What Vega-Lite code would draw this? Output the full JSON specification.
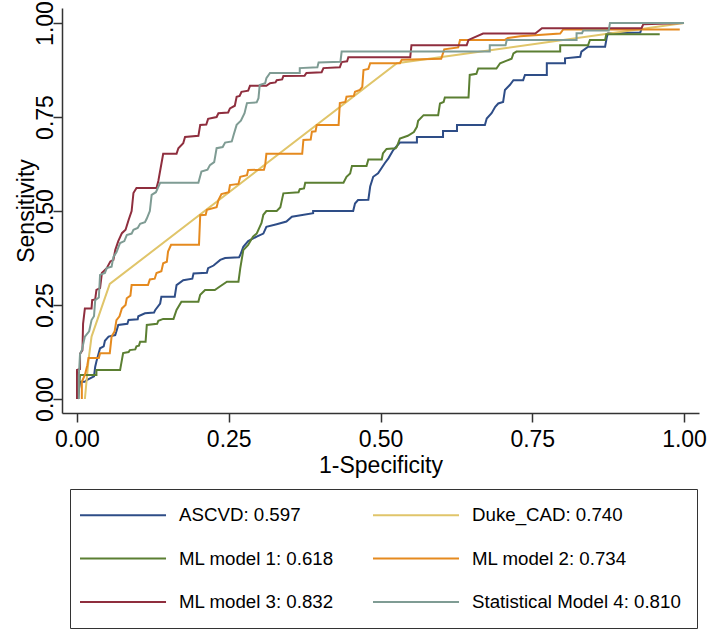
{
  "$schema": "https://vega.github.io/schema/vega-lite/v6.json",
  "width": 637,
  "height": 405,
  "autosize": {"type": "none"},
  "padding": {"left": 62, "top": 8, "right": 10, "bottom": 224},
  "background": "white",
  "config": {"view": {"stroke": null}, "font": "Liberation Sans"},
  "datasets": {
    "roc": [
      {"m":"ASCVD: 0.597","x":0.001,"y":0},{"m":"ASCVD: 0.597","x":0.005,"y":0.046},{"m":"ASCVD: 0.597","x":0.013,"y":0.046},{"m":"ASCVD: 0.597","x":0.016,"y":0.05},{"m":"ASCVD: 0.597","x":0.028,"y":0.06},{"m":"ASCVD: 0.597","x":0.03,"y":0.086},{"m":"ASCVD: 0.597","x":0.032,"y":0.1},{"m":"ASCVD: 0.597","x":0.038,"y":0.135},{"m":"ASCVD: 0.597","x":0.044,"y":0.14},{"m":"ASCVD: 0.597","x":0.046,"y":0.155},{"m":"ASCVD: 0.597","x":0.052,"y":0.166},{"m":"ASCVD: 0.597","x":0.063,"y":0.17},{"m":"ASCVD: 0.597","x":0.065,"y":0.18},{"m":"ASCVD: 0.597","x":0.068,"y":0.197},{"m":"ASCVD: 0.597","x":0.083,"y":0.2},{"m":"ASCVD: 0.597","x":0.085,"y":0.21},{"m":"ASCVD: 0.597","x":0.1,"y":0.212},{"m":"ASCVD: 0.597","x":0.101,"y":0.22},{"m":"ASCVD: 0.597","x":0.112,"y":0.228},{"m":"ASCVD: 0.597","x":0.127,"y":0.23},{"m":"ASCVD: 0.597","x":0.129,"y":0.237},{"m":"ASCVD: 0.597","x":0.137,"y":0.254},{"m":"ASCVD: 0.597","x":0.139,"y":0.272},{"m":"ASCVD: 0.597","x":0.161,"y":0.272},{"m":"ASCVD: 0.597","x":0.164,"y":0.303},{"m":"ASCVD: 0.597","x":0.175,"y":0.316},{"m":"ASCVD: 0.597","x":0.19,"y":0.32},{"m":"ASCVD: 0.597","x":0.192,"y":0.334},{"m":"ASCVD: 0.597","x":0.214,"y":0.336},{"m":"ASCVD: 0.597","x":0.216,"y":0.348},{"m":"ASCVD: 0.597","x":0.225,"y":0.355},{"m":"ASCVD: 0.597","x":0.236,"y":0.37},{"m":"ASCVD: 0.597","x":0.244,"y":0.375},{"m":"ASCVD: 0.597","x":0.267,"y":0.377},{"m":"ASCVD: 0.597","x":0.269,"y":0.383},{"m":"ASCVD: 0.597","x":0.274,"y":0.405},{"m":"ASCVD: 0.597","x":0.282,"y":0.42},{"m":"ASCVD: 0.597","x":0.296,"y":0.432},{"m":"ASCVD: 0.597","x":0.307,"y":0.44},{"m":"ASCVD: 0.597","x":0.312,"y":0.458},{"m":"ASCVD: 0.597","x":0.329,"y":0.465},{"m":"ASCVD: 0.597","x":0.345,"y":0.472},{"m":"ASCVD: 0.597","x":0.354,"y":0.485},{"m":"ASCVD: 0.597","x":0.389,"y":0.494},{"m":"ASCVD: 0.597","x":0.389,"y":0.5},{"m":"ASCVD: 0.597","x":0.455,"y":0.5},{"m":"ASCVD: 0.597","x":0.458,"y":0.52},{"m":"ASCVD: 0.597","x":0.463,"y":0.529},{"m":"ASCVD: 0.597","x":0.48,"y":0.53},{"m":"ASCVD: 0.597","x":0.483,"y":0.565},{"m":"ASCVD: 0.597","x":0.488,"y":0.591},{"m":"ASCVD: 0.597","x":0.496,"y":0.6},{"m":"ASCVD: 0.597","x":0.507,"y":0.627},{"m":"ASCVD: 0.597","x":0.513,"y":0.64},{"m":"ASCVD: 0.597","x":0.521,"y":0.662},{"m":"ASCVD: 0.597","x":0.532,"y":0.682},{"m":"ASCVD: 0.597","x":0.56,"y":0.682},{"m":"ASCVD: 0.597","x":0.56,"y":0.697},{"m":"ASCVD: 0.597","x":0.603,"y":0.697},{"m":"ASCVD: 0.597","x":0.603,"y":0.713},{"m":"ASCVD: 0.597","x":0.626,"y":0.713},{"m":"ASCVD: 0.597","x":0.626,"y":0.729},{"m":"ASCVD: 0.597","x":0.672,"y":0.729},{"m":"ASCVD: 0.597","x":0.675,"y":0.746},{"m":"ASCVD: 0.597","x":0.683,"y":0.76},{"m":"ASCVD: 0.597","x":0.689,"y":0.777},{"m":"ASCVD: 0.597","x":0.694,"y":0.786},{"m":"ASCVD: 0.597","x":0.702,"y":0.79},{"m":"ASCVD: 0.597","x":0.705,"y":0.822},{"m":"ASCVD: 0.597","x":0.713,"y":0.835},{"m":"ASCVD: 0.597","x":0.719,"y":0.848},{"m":"ASCVD: 0.597","x":0.735,"y":0.848},{"m":"ASCVD: 0.597","x":0.738,"y":0.862},{"m":"ASCVD: 0.597","x":0.774,"y":0.862},{"m":"ASCVD: 0.597","x":0.774,"y":0.893},{"m":"ASCVD: 0.597","x":0.804,"y":0.893},{"m":"ASCVD: 0.597","x":0.804,"y":0.906},{"m":"ASCVD: 0.597","x":0.829,"y":0.91},{"m":"ASCVD: 0.597","x":0.831,"y":0.924},{"m":"ASCVD: 0.597","x":0.842,"y":0.937},{"m":"ASCVD: 0.597","x":0.87,"y":0.937},{"m":"ASCVD: 0.597","x":0.873,"y":0.964},{"m":"ASCVD: 0.597","x":0.875,"y":0.973},{"m":"ASCVD: 0.597","x":0.928,"y":0.975},{"m":"ASCVD: 0.597","x":0.93,"y":0.985},

      {"m":"Duke_CAD: 0.740","x":0.013,"y":0},{"m":"Duke_CAD: 0.740","x":0.019,"y":0.104},{"m":"Duke_CAD: 0.740","x":0.024,"y":0.166},{"m":"Duke_CAD: 0.740","x":0.054,"y":0.306},{"m":"Duke_CAD: 0.740","x":0.527,"y":0.893},{"m":"Duke_CAD: 0.740","x":1,"y":1},

      {"m":"ML model 1: 0.618","x":0.002,"y":0},{"m":"ML model 1: 0.618","x":0.005,"y":0.064},{"m":"ML model 1: 0.618","x":0.032,"y":0.064},{"m":"ML model 1: 0.618","x":0.032,"y":0.077},{"m":"ML model 1: 0.618","x":0.071,"y":0.077},{"m":"ML model 1: 0.618","x":0.076,"y":0.122},{"m":"ML model 1: 0.618","x":0.085,"y":0.125},{"m":"ML model 1: 0.618","x":0.087,"y":0.13},{"m":"ML model 1: 0.618","x":0.096,"y":0.132},{"m":"ML model 1: 0.618","x":0.098,"y":0.14},{"m":"ML model 1: 0.618","x":0.102,"y":0.142},{"m":"ML model 1: 0.618","x":0.104,"y":0.152},{"m":"ML model 1: 0.618","x":0.113,"y":0.152},{"m":"ML model 1: 0.618","x":0.115,"y":0.197},{"m":"ML model 1: 0.618","x":0.132,"y":0.2},{"m":"ML model 1: 0.618","x":0.134,"y":0.208},{"m":"ML model 1: 0.618","x":0.142,"y":0.213},{"m":"ML model 1: 0.618","x":0.159,"y":0.213},{"m":"ML model 1: 0.618","x":0.164,"y":0.237},{"m":"ML model 1: 0.618","x":0.172,"y":0.259},{"m":"ML model 1: 0.618","x":0.2,"y":0.259},{"m":"ML model 1: 0.618","x":0.203,"y":0.277},{"m":"ML model 1: 0.618","x":0.211,"y":0.29},{"m":"ML model 1: 0.618","x":0.227,"y":0.29},{"m":"ML model 1: 0.618","x":0.236,"y":0.3},{"m":"ML model 1: 0.618","x":0.247,"y":0.312},{"m":"ML model 1: 0.618","x":0.266,"y":0.312},{"m":"ML model 1: 0.618","x":0.269,"y":0.348},{"m":"ML model 1: 0.618","x":0.274,"y":0.396},{"m":"ML model 1: 0.618","x":0.282,"y":0.41},{"m":"ML model 1: 0.618","x":0.29,"y":0.432},{"m":"ML model 1: 0.618","x":0.296,"y":0.44},{"m":"ML model 1: 0.618","x":0.304,"y":0.468},{"m":"ML model 1: 0.618","x":0.307,"y":0.49},{"m":"ML model 1: 0.618","x":0.312,"y":0.5},{"m":"ML model 1: 0.618","x":0.329,"y":0.5},{"m":"ML model 1: 0.618","x":0.335,"y":0.51},{"m":"ML model 1: 0.618","x":0.337,"y":0.525},{"m":"ML model 1: 0.618","x":0.34,"y":0.547},{"m":"ML model 1: 0.618","x":0.365,"y":0.55},{"m":"ML model 1: 0.618","x":0.367,"y":0.558},{"m":"ML model 1: 0.618","x":0.374,"y":0.56},{"m":"ML model 1: 0.618","x":0.376,"y":0.575},{"m":"ML model 1: 0.618","x":0.439,"y":0.575},{"m":"ML model 1: 0.618","x":0.444,"y":0.591},{"m":"ML model 1: 0.618","x":0.45,"y":0.6},{"m":"ML model 1: 0.618","x":0.453,"y":0.62},{"m":"ML model 1: 0.618","x":0.477,"y":0.62},{"m":"ML model 1: 0.618","x":0.48,"y":0.637},{"m":"ML model 1: 0.618","x":0.502,"y":0.637},{"m":"ML model 1: 0.618","x":0.504,"y":0.653},{"m":"ML model 1: 0.618","x":0.51,"y":0.665},{"m":"ML model 1: 0.618","x":0.525,"y":0.667},{"m":"ML model 1: 0.618","x":0.527,"y":0.671},{"m":"ML model 1: 0.618","x":0.532,"y":0.693},{"m":"ML model 1: 0.618","x":0.545,"y":0.7},{"m":"ML model 1: 0.618","x":0.555,"y":0.71},{"m":"ML model 1: 0.618","x":0.56,"y":0.724},{"m":"ML model 1: 0.618","x":0.562,"y":0.74},{"m":"ML model 1: 0.618","x":0.571,"y":0.755},{"m":"ML model 1: 0.618","x":0.595,"y":0.755},{"m":"ML model 1: 0.618","x":0.598,"y":0.786},{"m":"ML model 1: 0.618","x":0.604,"y":0.79},{"m":"ML model 1: 0.618","x":0.606,"y":0.802},{"m":"ML model 1: 0.618","x":0.645,"y":0.802},{"m":"ML model 1: 0.618","x":0.647,"y":0.862},{"m":"ML model 1: 0.618","x":0.658,"y":0.865},{"m":"ML model 1: 0.618","x":0.661,"y":0.879},{"m":"ML model 1: 0.618","x":0.691,"y":0.879},{"m":"ML model 1: 0.618","x":0.697,"y":0.893},{"m":"ML model 1: 0.618","x":0.708,"y":0.9},{"m":"ML model 1: 0.618","x":0.716,"y":0.905},{"m":"ML model 1: 0.618","x":0.719,"y":0.919},{"m":"ML model 1: 0.618","x":0.724,"y":0.924},{"m":"ML model 1: 0.618","x":0.796,"y":0.924},{"m":"ML model 1: 0.618","x":0.796,"y":0.941},{"m":"ML model 1: 0.618","x":0.842,"y":0.941},{"m":"ML model 1: 0.618","x":0.845,"y":0.955},{"m":"ML model 1: 0.618","x":0.87,"y":0.955},{"m":"ML model 1: 0.618","x":0.872,"y":0.97},{"m":"ML model 1: 0.618","x":0.96,"y":0.97},

      {"m":"ML model 2: 0.734","x":0.008,"y":0},{"m":"ML model 2: 0.734","x":0.008,"y":0.046},{"m":"ML model 2: 0.734","x":0.013,"y":0.064},{"m":"ML model 2: 0.734","x":0.017,"y":0.09},{"m":"ML model 2: 0.734","x":0.019,"y":0.109},{"m":"ML model 2: 0.734","x":0.036,"y":0.109},{"m":"ML model 2: 0.734","x":0.038,"y":0.122},{"m":"ML model 2: 0.734","x":0.054,"y":0.122},{"m":"ML model 2: 0.734","x":0.057,"y":0.166},{"m":"ML model 2: 0.734","x":0.062,"y":0.18},{"m":"ML model 2: 0.734","x":0.065,"y":0.21},{"m":"ML model 2: 0.734","x":0.07,"y":0.22},{"m":"ML model 2: 0.734","x":0.074,"y":0.241},{"m":"ML model 2: 0.734","x":0.08,"y":0.25},{"m":"ML model 2: 0.734","x":0.082,"y":0.268},{"m":"ML model 2: 0.734","x":0.088,"y":0.275},{"m":"ML model 2: 0.734","x":0.09,"y":0.303},{"m":"ML model 2: 0.734","x":0.117,"y":0.303},{"m":"ML model 2: 0.734","x":0.12,"y":0.318},{"m":"ML model 2: 0.734","x":0.128,"y":0.32},{"m":"ML model 2: 0.734","x":0.131,"y":0.335},{"m":"ML model 2: 0.734","x":0.139,"y":0.34},{"m":"ML model 2: 0.734","x":0.142,"y":0.361},{"m":"ML model 2: 0.734","x":0.148,"y":0.365},{"m":"ML model 2: 0.734","x":0.15,"y":0.392},{"m":"ML model 2: 0.734","x":0.155,"y":0.41},{"m":"ML model 2: 0.734","x":0.201,"y":0.41},{"m":"ML model 2: 0.734","x":0.203,"y":0.489},{"m":"ML model 2: 0.734","x":0.212,"y":0.49},{"m":"ML model 2: 0.734","x":0.214,"y":0.503},{"m":"ML model 2: 0.734","x":0.23,"y":0.51},{"m":"ML model 2: 0.734","x":0.233,"y":0.529},{"m":"ML model 2: 0.734","x":0.238,"y":0.545},{"m":"ML model 2: 0.734","x":0.25,"y":0.55},{"m":"ML model 2: 0.734","x":0.252,"y":0.569},{"m":"ML model 2: 0.734","x":0.266,"y":0.572},{"m":"ML model 2: 0.734","x":0.269,"y":0.591},{"m":"ML model 2: 0.734","x":0.28,"y":0.595},{"m":"ML model 2: 0.734","x":0.282,"y":0.609},{"m":"ML model 2: 0.734","x":0.308,"y":0.61},{"m":"ML model 2: 0.734","x":0.31,"y":0.622},{"m":"ML model 2: 0.734","x":0.312,"y":0.652},{"m":"ML model 2: 0.734","x":0.371,"y":0.652},{"m":"ML model 2: 0.734","x":0.373,"y":0.689},{"m":"ML model 2: 0.734","x":0.385,"y":0.69},{"m":"ML model 2: 0.734","x":0.387,"y":0.711},{"m":"ML model 2: 0.734","x":0.393,"y":0.712},{"m":"ML model 2: 0.734","x":0.395,"y":0.729},{"m":"ML model 2: 0.734","x":0.431,"y":0.729},{"m":"ML model 2: 0.734","x":0.433,"y":0.787},{"m":"ML model 2: 0.734","x":0.442,"y":0.79},{"m":"ML model 2: 0.734","x":0.444,"y":0.804},{"m":"ML model 2: 0.734","x":0.456,"y":0.806},{"m":"ML model 2: 0.734","x":0.458,"y":0.817},{"m":"ML model 2: 0.734","x":0.466,"y":0.822},{"m":"ML model 2: 0.734","x":0.47,"y":0.83},{"m":"ML model 2: 0.734","x":0.472,"y":0.875},{"m":"ML model 2: 0.734","x":0.48,"y":0.878},{"m":"ML model 2: 0.734","x":0.483,"y":0.893},{"m":"ML model 2: 0.734","x":0.532,"y":0.893},{"m":"ML model 2: 0.734","x":0.535,"y":0.902},{"m":"ML model 2: 0.734","x":0.6,"y":0.905},{"m":"ML model 2: 0.734","x":0.605,"y":0.93},{"m":"ML model 2: 0.734","x":0.628,"y":0.935},{"m":"ML model 2: 0.734","x":0.631,"y":0.955},{"m":"ML model 2: 0.734","x":0.705,"y":0.955},{"m":"ML model 2: 0.734","x":0.71,"y":0.96},{"m":"ML model 2: 0.734","x":0.73,"y":0.965},{"m":"ML model 2: 0.734","x":0.796,"y":0.972},{"m":"ML model 2: 0.734","x":0.801,"y":0.983},{"m":"ML model 2: 0.734","x":0.993,"y":0.983},

      {"m":"ML model 3: 0.832","x":0,"y":0},{"m":"ML model 3: 0.832","x":0,"y":0.077},{"m":"ML model 3: 0.832","x":0.005,"y":0.08},{"m":"ML model 3: 0.832","x":0.005,"y":0.12},{"m":"ML model 3: 0.832","x":0.009,"y":0.13},{"m":"ML model 3: 0.832","x":0.01,"y":0.2},{"m":"ML model 3: 0.832","x":0.013,"y":0.241},{"m":"ML model 3: 0.832","x":0.024,"y":0.241},{"m":"ML model 3: 0.832","x":0.025,"y":0.263},{"m":"ML model 3: 0.832","x":0.03,"y":0.265},{"m":"ML model 3: 0.832","x":0.032,"y":0.29},{"m":"ML model 3: 0.832","x":0.038,"y":0.295},{"m":"ML model 3: 0.832","x":0.041,"y":0.335},{"m":"ML model 3: 0.832","x":0.049,"y":0.348},{"m":"ML model 3: 0.832","x":0.055,"y":0.366},{"m":"ML model 3: 0.832","x":0.06,"y":0.37},{"m":"ML model 3: 0.832","x":0.063,"y":0.396},{"m":"ML model 3: 0.832","x":0.068,"y":0.42},{"m":"ML model 3: 0.832","x":0.074,"y":0.441},{"m":"ML model 3: 0.832","x":0.08,"y":0.45},{"m":"ML model 3: 0.832","x":0.085,"y":0.476},{"m":"ML model 3: 0.832","x":0.09,"y":0.5},{"m":"ML model 3: 0.832","x":0.093,"y":0.548},{"m":"ML model 3: 0.832","x":0.098,"y":0.561},{"m":"ML model 3: 0.832","x":0.131,"y":0.561},{"m":"ML model 3: 0.832","x":0.134,"y":0.58},{"m":"ML model 3: 0.832","x":0.142,"y":0.652},{"m":"ML model 3: 0.832","x":0.164,"y":0.652},{"m":"ML model 3: 0.832","x":0.167,"y":0.667},{"m":"ML model 3: 0.832","x":0.175,"y":0.68},{"m":"ML model 3: 0.832","x":0.178,"y":0.697},{"m":"ML model 3: 0.832","x":0.2,"y":0.7},{"m":"ML model 3: 0.832","x":0.203,"y":0.729},{"m":"ML model 3: 0.832","x":0.213,"y":0.73},{"m":"ML model 3: 0.832","x":0.216,"y":0.745},{"m":"ML model 3: 0.832","x":0.23,"y":0.75},{"m":"ML model 3: 0.832","x":0.233,"y":0.76},{"m":"ML model 3: 0.832","x":0.249,"y":0.762},{"m":"ML model 3: 0.832","x":0.252,"y":0.773},{"m":"ML model 3: 0.832","x":0.26,"y":0.78},{"m":"ML model 3: 0.832","x":0.263,"y":0.804},{"m":"ML model 3: 0.832","x":0.268,"y":0.806},{"m":"ML model 3: 0.832","x":0.271,"y":0.817},{"m":"ML model 3: 0.832","x":0.282,"y":0.82},{"m":"ML model 3: 0.832","x":0.285,"y":0.833},{"m":"ML model 3: 0.832","x":0.312,"y":0.833},{"m":"ML model 3: 0.832","x":0.318,"y":0.84},{"m":"ML model 3: 0.832","x":0.327,"y":0.842},{"m":"ML model 3: 0.832","x":0.329,"y":0.848},{"m":"ML model 3: 0.832","x":0.338,"y":0.85},{"m":"ML model 3: 0.832","x":0.34,"y":0.859},{"m":"ML model 3: 0.832","x":0.375,"y":0.86},{"m":"ML model 3: 0.832","x":0.378,"y":0.867},{"m":"ML model 3: 0.832","x":0.403,"y":0.869},{"m":"ML model 3: 0.832","x":0.406,"y":0.88},{"m":"ML model 3: 0.832","x":0.433,"y":0.882},{"m":"ML model 3: 0.832","x":0.436,"y":0.896},{"m":"ML model 3: 0.832","x":0.445,"y":0.898},{"m":"ML model 3: 0.832","x":0.447,"y":0.909},{"m":"ML model 3: 0.832","x":0.549,"y":0.909},{"m":"ML model 3: 0.832","x":0.551,"y":0.941},{"m":"ML model 3: 0.832","x":0.642,"y":0.941},{"m":"ML model 3: 0.832","x":0.645,"y":0.955},{"m":"ML model 3: 0.832","x":0.669,"y":0.972},{"m":"ML model 3: 0.832","x":0.755,"y":0.972},{"m":"ML model 3: 0.832","x":0.766,"y":0.986},{"m":"ML model 3: 0.832","x":0.93,"y":0.986},{"m":"ML model 3: 0.832","x":0.933,"y":0.997},{"m":"ML model 3: 0.832","x":1,"y":1},

      {"m":"Statistical Model 4: 0.810","x":0.003,"y":0},{"m":"Statistical Model 4: 0.810","x":0.003,"y":0.06},{"m":"Statistical Model 4: 0.810","x":0.005,"y":0.12},{"m":"Statistical Model 4: 0.810","x":0.008,"y":0.13},{"m":"Statistical Model 4: 0.810","x":0.013,"y":0.166},{"m":"Statistical Model 4: 0.810","x":0.02,"y":0.18},{"m":"Statistical Model 4: 0.810","x":0.024,"y":0.21},{"m":"Statistical Model 4: 0.810","x":0.028,"y":0.22},{"m":"Statistical Model 4: 0.810","x":0.03,"y":0.263},{"m":"Statistical Model 4: 0.810","x":0.036,"y":0.27},{"m":"Statistical Model 4: 0.810","x":0.038,"y":0.33},{"m":"Statistical Model 4: 0.810","x":0.046,"y":0.335},{"m":"Statistical Model 4: 0.810","x":0.049,"y":0.348},{"m":"Statistical Model 4: 0.810","x":0.057,"y":0.352},{"m":"Statistical Model 4: 0.810","x":0.06,"y":0.378},{"m":"Statistical Model 4: 0.810","x":0.065,"y":0.39},{"m":"Statistical Model 4: 0.810","x":0.071,"y":0.415},{"m":"Statistical Model 4: 0.810","x":0.078,"y":0.42},{"m":"Statistical Model 4: 0.810","x":0.082,"y":0.436},{"m":"Statistical Model 4: 0.810","x":0.09,"y":0.44},{"m":"Statistical Model 4: 0.810","x":0.093,"y":0.45},{"m":"Statistical Model 4: 0.810","x":0.1,"y":0.455},{"m":"Statistical Model 4: 0.810","x":0.104,"y":0.466},{"m":"Statistical Model 4: 0.810","x":0.112,"y":0.47},{"m":"Statistical Model 4: 0.810","x":0.115,"y":0.48},{"m":"Statistical Model 4: 0.810","x":0.12,"y":0.5},{"m":"Statistical Model 4: 0.810","x":0.123,"y":0.543},{"m":"Statistical Model 4: 0.810","x":0.13,"y":0.55},{"m":"Statistical Model 4: 0.810","x":0.137,"y":0.575},{"m":"Statistical Model 4: 0.810","x":0.2,"y":0.575},{"m":"Statistical Model 4: 0.810","x":0.205,"y":0.605},{"m":"Statistical Model 4: 0.810","x":0.215,"y":0.61},{"m":"Statistical Model 4: 0.810","x":0.219,"y":0.622},{"m":"Statistical Model 4: 0.810","x":0.226,"y":0.63},{"m":"Statistical Model 4: 0.810","x":0.23,"y":0.667},{"m":"Statistical Model 4: 0.810","x":0.24,"y":0.67},{"m":"Statistical Model 4: 0.810","x":0.244,"y":0.682},{"m":"Statistical Model 4: 0.810","x":0.255,"y":0.685},{"m":"Statistical Model 4: 0.810","x":0.258,"y":0.702},{"m":"Statistical Model 4: 0.810","x":0.263,"y":0.729},{"m":"Statistical Model 4: 0.810","x":0.27,"y":0.74},{"m":"Statistical Model 4: 0.810","x":0.276,"y":0.76},{"m":"Statistical Model 4: 0.810","x":0.28,"y":0.787},{"m":"Statistical Model 4: 0.810","x":0.296,"y":0.789},{"m":"Statistical Model 4: 0.810","x":0.299,"y":0.8},{"m":"Statistical Model 4: 0.810","x":0.301,"y":0.835},{"m":"Statistical Model 4: 0.810","x":0.31,"y":0.84},{"m":"Statistical Model 4: 0.810","x":0.312,"y":0.853},{"m":"Statistical Model 4: 0.810","x":0.318,"y":0.867},{"m":"Statistical Model 4: 0.810","x":0.367,"y":0.867},{"m":"Statistical Model 4: 0.810","x":0.367,"y":0.88},{"m":"Statistical Model 4: 0.810","x":0.396,"y":0.882},{"m":"Statistical Model 4: 0.810","x":0.398,"y":0.895},{"m":"Statistical Model 4: 0.810","x":0.434,"y":0.897},{"m":"Statistical Model 4: 0.810","x":0.436,"y":0.924},{"m":"Statistical Model 4: 0.810","x":0.68,"y":0.924},{"m":"Statistical Model 4: 0.810","x":0.68,"y":0.941},{"m":"Statistical Model 4: 0.810","x":0.706,"y":0.941},{"m":"Statistical Model 4: 0.810","x":0.708,"y":0.955},{"m":"Statistical Model 4: 0.810","x":0.823,"y":0.955},{"m":"Statistical Model 4: 0.810","x":0.823,"y":0.973},{"m":"Statistical Model 4: 0.810","x":0.832,"y":0.973},{"m":"Statistical Model 4: 0.810","x":0.834,"y":0.98},{"m":"Statistical Model 4: 0.810","x":0.876,"y":0.98},{"m":"Statistical Model 4: 0.810","x":0.878,"y":1},{"m":"Statistical Model 4: 0.810","x":1,"y":1}
    ]
  },
  "data": {"name": "roc"},
  "mark": {"type": "line", "strokeWidth": 2, "clip": false, "strokeJoin": "miter"},
  "encoding": {
    "x": {
      "field": "x", "type": "quantitative",
      "scale": {"domain": [-0.0247, 1.0247], "nice": false, "zero": false},
      "axis": {
        "values": [0, 0.25, 0.5, 0.75, 1], "format": ".2f", "title": "1-Specificity",
        "grid": false, "domainColor": "#333333", "domainWidth": 1.5,
        "tickColor": "#333333", "tickWidth": 1.5, "tickSize": 9,
        "labelFontSize": 23, "labelColor": "#000000", "labelPadding": 6,
        "titleFontSize": 23, "titleFontWeight": "normal", "titleColor": "#000000", "titlePadding": 3
      }
    },
    "y": {
      "field": "y", "type": "quantitative",
      "scale": {"domain": [-0.0372, 1.0399], "nice": false, "zero": false},
      "axis": {
        "values": [0, 0.25, 0.5, 0.75, 1], "format": ".2f", "title": "Sensitivity",
        "grid": false, "domainColor": "#333333", "domainWidth": 1.5,
        "tickColor": "#333333", "tickWidth": 1.5, "tickSize": 9,
        "labelAngle": -90, "labelFontSize": 23, "labelColor": "#000000", "labelPadding": -4,
        "titleFontSize": 23, "titleFontWeight": "normal", "titleColor": "#000000", "titlePadding": -4
      }
    },
    "color": {
      "field": "m", "type": "nominal",
      "scale": {
        "domain": ["ASCVD: 0.597", "Duke_CAD: 0.740", "ML model 1: 0.618", "ML model 2: 0.734", "ML model 3: 0.832", "Statistical Model 4: 0.810"],
        "range": ["#2e4d87", "#e0c56a", "#5b7f32", "#e58a1f", "#8f2e3e", "#7f9c94"]
      },
      "legend": {
        "orient": "none", "legendX": 8, "legendY": 481, "columns": 2, "direction": "horizontal",
        "title": null, "symbolType": "M-1.86,0H8.14", "symbolSize": 296, "symbolStrokeWidth": 2,
        "labelFontSize": 18.7, "labelColor": "#000000", "labelOffset": 73, "labelLimit": 400,
        "rowPadding": 23.5, "columnPadding": 34, "padding": 16,
        "strokeColor": "#333333"
      }
    },
    "order": {"value": null}
  }
}
